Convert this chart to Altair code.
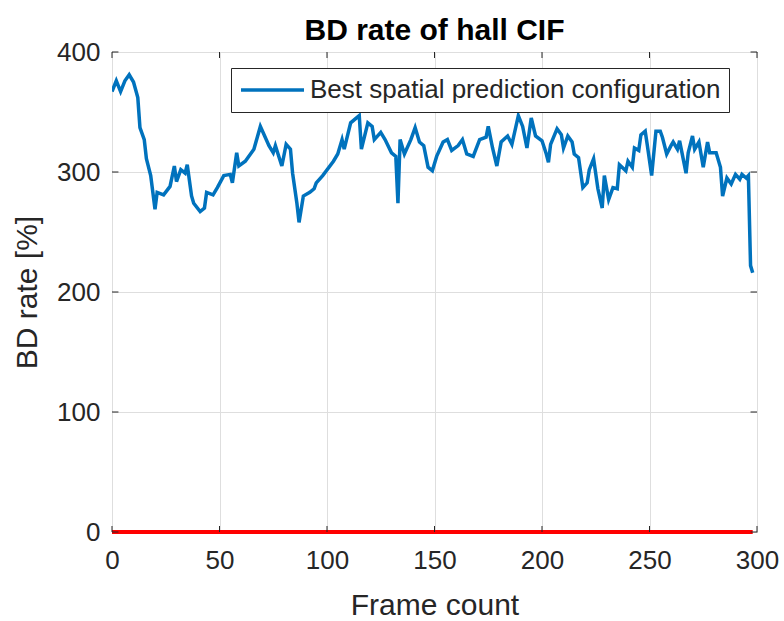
import altair as alt
import pandas as pd

# BD rate per frame (vertex estimates), best spatial prediction configuration
frames = [0, 2, 4, 6, 8, 10, 12, 13, 15, 16, 18, 20, 21, 24, 27, 29, 30, 32, 34, 35,
          37, 38, 41, 43, 44, 47, 49, 52, 55, 56, 58, 59, 62, 66, 69, 71, 73, 75, 76, 79,
          81, 83, 84, 86, 87, 89, 92, 94, 95, 98, 103, 105, 107, 108, 111, 115, 116, 119, 121, 122,
          125, 127, 130, 132, 133, 134, 136, 139, 141, 143, 145, 147, 149, 151, 154, 156, 158, 161, 163, 165,
          168, 171, 174, 175, 177, 179, 181, 184, 186, 189, 191, 193, 195, 197, 200, 202, 203, 204, 207, 209,
          210, 212, 214, 215, 217, 219, 221, 222, 224, 226, 228, 229, 231, 233, 235, 236, 239, 240, 242, 243,
          245, 246, 248, 249, 251, 253, 255, 256, 258, 260, 261, 263, 264, 267, 268, 270, 271, 273, 275, 277,
          278, 281, 283, 284, 286, 288, 290, 292, 293, 295, 296, 297, 298]
bd_rate = [367, 376, 367, 376, 381, 375, 362, 337, 327, 311, 297, 269, 283, 281, 288, 305, 292, 302, 299, 306,
           280, 274, 267, 270, 283, 281, 287, 297, 298, 291, 316, 305, 309, 319, 338, 330, 322, 316, 322, 305,
           323, 319, 299, 274, 258, 280, 283, 286, 291, 297, 309, 315, 327, 319, 341, 347, 319, 341, 338, 327,
           333, 327, 316, 313, 274, 327, 315, 327, 337, 325, 322, 304, 301, 313, 325, 327, 318, 322, 327, 315,
           313, 327, 329, 338, 320, 305, 325, 330, 323, 347, 338, 320, 345, 330, 326, 315, 308, 323, 336, 331,
           320, 330, 325, 315, 312, 287, 291, 302, 311, 286, 270, 297, 277, 287, 286, 306, 301, 309, 304, 320,
           318, 331, 334, 322, 297, 334, 334, 329, 315, 322, 325, 319, 326, 299, 316, 330, 319, 325, 304, 325,
           316, 316, 304, 280, 295, 290, 298, 294, 298, 295, 297, 222, 216]

# Reference level (0 %) over the whole sequence
ref_frames = [0, 298]
ref_rate = [0, 0]

x_ticks = [0, 50, 100, 150, 200, 250, 300]
y_ticks = [0, 100, 200, 300, 400]

SERIES = "Best spatial prediction configuration"
FONT = "Liberation Sans"
INK = "#262626"

line_df = pd.DataFrame({"frame": frames, "rate": bd_rate, "series": SERIES})
ref_df = pd.DataFrame({"frame": ref_frames, "rate": ref_rate})
xt_df = pd.DataFrame({"t": x_ticks})
yt_df = pd.DataFrame({"t": y_ticks})

x_scale = alt.Scale(domain=[0, 300], nice=False, zero=False)
y_scale = alt.Scale(domain=[0, 400], nice=False)

x_enc = alt.X("frame:Q", scale=x_scale,
              axis=alt.Axis(values=x_ticks, title="Frame count", grid=True,
                            ticks=False, domain=False, labelPadding=15,
                            labelFlush=False, titlePadding=17))
y_enc = alt.Y("rate:Q", scale=y_scale,
              axis=alt.Axis(values=y_ticks, title="BD rate [%]", grid=True,
                            ticks=False, domain=False, labelPadding=12,
                            labelFlush=False, titlePadding=14))

main = alt.Chart(line_df).mark_line(strokeWidth=3.5, clip=True).encode(
    x=x_enc,
    y=y_enc,
    color=alt.Color("series:N",
                    scale=alt.Scale(domain=[SERIES], range=["#0072BD"]),
                    legend=alt.Legend(title=None, orient="none", legendX=119, legendY=16,
                                      symbolType="stroke", symbolSize=3969,
                                      symbolStrokeWidth=3.5, labelFontSize=26,
                                      labelFont=FONT, labelColor=INK, labelOffset=4,
                                      labelLimit=0, clipHeight=28, padding=8,
                                      strokeColor=INK, fillColor="white")),
)

ref = alt.Chart(ref_df).mark_line(color="#FF0000", strokeWidth=4).encode(
    x=alt.X("frame:Q", scale=x_scale),
    y=alt.Y("rate:Q", scale=y_scale),
)

# Inward tick marks on all four sides of the box
tick_len_y = 5    # in rate units
tick_len_x = 3    # in frame units
bottom_ticks = alt.Chart(xt_df).transform_calculate(a="0", b=str(tick_len_y)).mark_rule(
    color=INK, strokeWidth=1).encode(
    x=alt.X("t:Q", scale=x_scale), y=alt.Y("a:Q", scale=y_scale), y2="b:Q")
top_ticks = alt.Chart(xt_df).transform_calculate(a="400", b=str(400 - tick_len_y)).mark_rule(
    color=INK, strokeWidth=1).encode(
    x=alt.X("t:Q", scale=x_scale), y=alt.Y("a:Q", scale=y_scale), y2="b:Q")
left_ticks = alt.Chart(yt_df).transform_calculate(a="0", b=str(tick_len_x)).mark_rule(
    color=INK, strokeWidth=1).encode(
    y=alt.Y("t:Q", scale=y_scale), x=alt.X("a:Q", scale=x_scale), x2="b:Q")
right_ticks = alt.Chart(yt_df).transform_calculate(a="300", b=str(300 - tick_len_x)).mark_rule(
    color=INK, strokeWidth=1).encode(
    y=alt.Y("t:Q", scale=y_scale), x=alt.X("a:Q", scale=x_scale), x2="b:Q")

chart = alt.layer(main, ref, bottom_ticks, top_ticks, left_ticks, right_ticks).properties(
    width=645,
    height=480,
    title=alt.TitleParams("BD rate of hall CIF", font=FONT, fontSize=30, fontWeight="bold",
                          color="black", anchor="middle", offset=-7),
    autosize=alt.AutoSizeParams(type="none"),
    padding={"left": 112, "top": 52, "right": 27, "bottom": 89},
    background="white",
).configure_view(
    stroke=INK, strokeWidth=1,
).configure_axis(
    labelFont=FONT, labelFontSize=26, labelColor=INK,
    titleFont=FONT, titleFontSize=30, titleColor=INK, titleFontWeight="normal",
    gridColor="#dedede", gridWidth=1,
)

chart.save("out.html", embed_options={"renderer": "svg", "actions": False})
